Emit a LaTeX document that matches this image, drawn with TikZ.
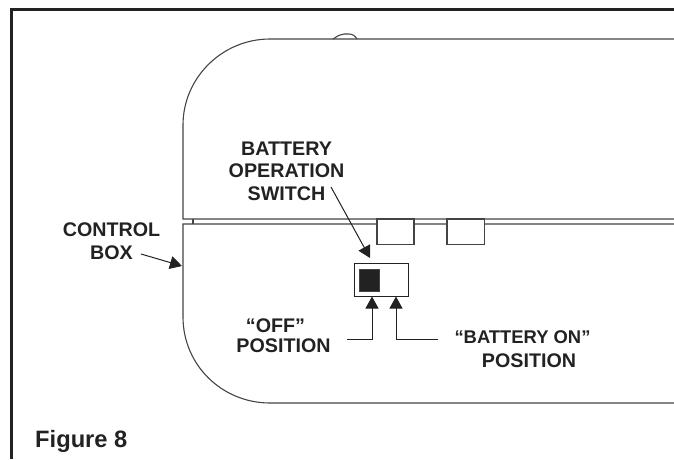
\documentclass[tikz,border=0pt]{standalone}
\usepackage{fontspec}
\setmainfont{Liberation Sans}
\usepackage{tikz}
\usetikzlibrary{arrows.meta,positioning}
\definecolor{inkdark}{HTML}{222222}
\definecolor{linegray}{HTML}{444444}

\begin{document}
\begin{tikzpicture}[
    x=1pt, y=-1pt,
    label/.style={inner sep=0pt, align=center, text=inkdark,
                font=\fontsize{19.7}{22.5}\selectfont\bfseries},
    outline/.style={draw=linegray, line width=1.1pt},
    frameline/.style={draw=inkdark, line width=2.7pt},
    switchbox/.style={rectangle, draw=inkdark, line width=0.9pt, inner sep=0pt,
                minimum width=54.5pt, minimum height=32.5pt},
    knob/.style={rectangle, draw=linegray, fill=inkdark, line width=0.9pt, inner sep=0pt,
                minimum width=20.5pt, minimum height=22.5pt},
    ptr/.style={draw=inkdark, line width=1pt,
                -{Stealth[length=12pt, width=13pt, inset=0pt]}},
    >=Stealth
]
\useasboundingbox (0,0) rectangle (674,459);

% Frame
\draw[frameline] (674,9.5) -- (11.3,9.5) -- (11.3,459);

% Upper housing
\draw[outline] (674,39) -- (270,39) .. controls (222,39) and (183,78) .. (183,125) -- (183,219) -- (674,219);
\draw[outline] (333,39) .. controls (338,36) and (340,34) .. (344,34) -- (349,34) .. controls (353,34) and (355,36) .. (357,39);

% Control box
\draw[outline] (674,224) -- (183,224) -- (183,317) .. controls (183,365) and (222,403) .. (270,403) -- (674,403);
\draw[outline] (193,219) -- (193,224);

% Tabs
\draw[outline, fill=white] (377,219) rectangle (414,244.5);
\draw[outline, fill=white] (447,219) rectangle (484.5,244.5);

% Switch
\node[switchbox] (switch) at (381.5,280) {};
\node[knob] (knoboff) at (369.5,280.5) {};

% Labels
\node[label] (switchlbl) at (286.5,171) {BATTERY\\OPERATION\\SWITCH};
\node[label] (boxlbl) at (111.5,241) {CONTROL\\BOX};
\node[label] (offlbl) at (283.5,336) {“OFF”\hspace*{16pt}\\[-2.5pt]POSITION};
\node[label] (onlbl) at (522.5,349.5) {{\fontsize{18.4}{22.5}\selectfont\bfseries “BATTERY ON”}\\[1.5pt]\hspace*{13pt}POSITION};
\node[label, font=\fontsize{23.7}{26}\selectfont\bfseries, anchor=west] (figlbl) at (35,441) {Figure 8};

% Leaders
\coordinate (switchtail) at (331,187);
\coordinate (switchtip) at (370,258);
\coordinate (boxtail) at (141,254);
\coordinate (boxtip) at (182,266);
\coordinate (offtail) at (347,339);
\coordinate (offtip) at (372,296.5);
\coordinate (ontail) at (438,339);
\coordinate (ontip) at (396,296.5);

\draw[ptr] (switchtail) -- (switchtip);
\draw[ptr] (boxtail) -- (boxtip);
\draw[ptr] (offtail) -| (offtip);
\draw[ptr] (ontail) -| (ontip);
\end{tikzpicture}
\end{document}
